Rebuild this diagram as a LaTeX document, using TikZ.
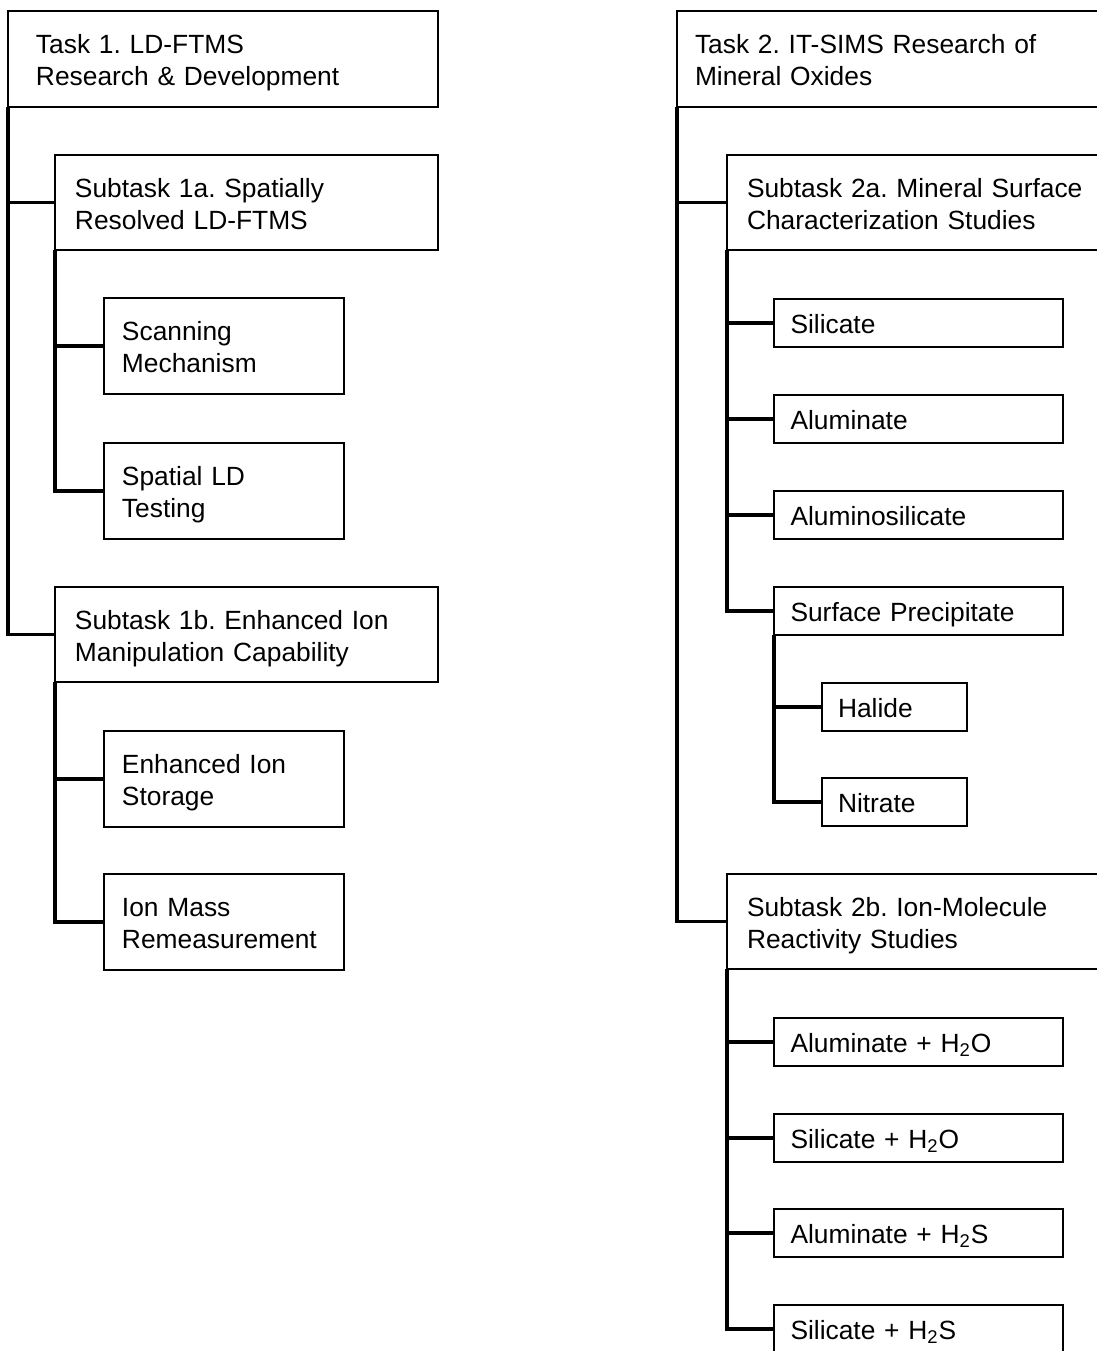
\documentclass[tikz,border=0pt]{standalone}
\usepackage{fontspec}
\setmainfont{Liberation Sans}
\frenchspacing
\begin{document}
\begin{tikzpicture}[x=0.02cm, y=-0.02cm, font=\fontsize{15}{18}\selectfont,
    box/.style={draw, line width=1.1pt, outer sep=0pt, anchor=north west, align=left, inner ysep=0pt},
    twoline/.style={box, text height=12pt, text depth=17.7pt},
    oneline/.style={box, text height=12pt, text depth=0.4pt},
    taskbox/.style={twoline, minimum width=8.6cm, minimum height=1.92cm},
    subbox/.style={twoline, minimum width=7.66cm, minimum height=1.9cm, inner xsep=0.4cm, text width=6.86cm},
    itembox/.style={twoline, minimum width=4.8cm, minimum height=1.92cm, inner xsep=0.36cm, text width=4.08cm},
    leafbox/.style={oneline, minimum width=5.78cm, minimum height=0.96cm, inner xsep=0.33cm, text width=5.12cm},
    smallbox/.style={oneline, minimum width=2.9cm, minimum height=0.96cm, inner xsep=0.32cm, text width=2.26cm},
    link/.style={line width=2.1pt}]
  \useasboundingbox (0,0) rectangle (1097,1351);
  \clip (0,0) rectangle (1097,1351);
  % task 1
  \node[taskbox, inner xsep=0.56cm, text width=7.48cm] (t1) at (8,11) {Task 1. LD-FTMS\\Research \& Development};
  \node[subbox] (s1a) at (55,155) {Subtask 1a. Spatially\\Resolved LD-FTMS};
  \node[itembox] (scan) at (104,298) {Scanning\\Mechanism};
  \node[itembox] (ldtest) at (104,443) {Spatial LD\\Testing};
  \node[subbox] (s1b) at (55,587) {Subtask 1b. Enhanced Ion\\Manipulation Capability};
  \node[itembox] (store) at (104,731) {Enhanced Ion\\Storage};
  \node[itembox] (remeas) at (104,874) {Ion Mass\\Remeasurement};
  \foreach \c in {s1a,s1b} \draw[link] (t1.south west) |- (\c.west);
  \foreach \c in {scan,ldtest} \draw[link] (s1a.south west) |- (\c.west);
  \foreach \c in {store,remeas} \draw[link] (s1b.south west) |- (\c.west);
  % task 2
  \node[taskbox, inner xsep=0.36cm, text width=7.88cm] (t2) at (677,11) {Task 2. IT-SIMS Research of\\Mineral Oxides};
  \node[subbox] (s2a) at (727,155) {Subtask 2a. Mineral Surface\\Characterization Studies};
  \node[leafbox] (sil) at (774,299) {Silicate};
  \node[leafbox] (alu) at (774,395) {Aluminate};
  \node[leafbox] (alusil) at (774,491) {Aluminosilicate};
  \node[leafbox] (precip) at (774,587) {Surface Precipitate};
  \node[smallbox] (halide) at (822,683) {Halide};
  \node[smallbox] (nitrate) at (822,778) {Nitrate};
  \node[subbox] (s2b) at (727,874) {Subtask 2b. Ion-Molecule\\Reactivity Studies};
  \node[leafbox] (aluwat) at (774,1018) {Aluminate + H\textsubscript{2}O};
  \node[leafbox] (silwat) at (774,1114) {Silicate + H\textsubscript{2}O};
  \node[leafbox] (alusulf) at (774,1209) {Aluminate + H\textsubscript{2}S};
  \node[leafbox] (silsulf) at (774,1305) {Silicate + H\textsubscript{2}S};
  \foreach \c in {s2a,s2b} \draw[link] (t2.south west) |- (\c.west);
  \foreach \c in {sil,alu,alusil,precip} \draw[link] (s2a.south west) |- (\c.west);
  \foreach \c in {halide,nitrate} \draw[link] (precip.south west) |- (\c.west);
  \foreach \c in {aluwat,silwat,alusulf,silsulf} \draw[link] (s2b.south west) |- (\c.west);
\end{tikzpicture}
\end{document}
